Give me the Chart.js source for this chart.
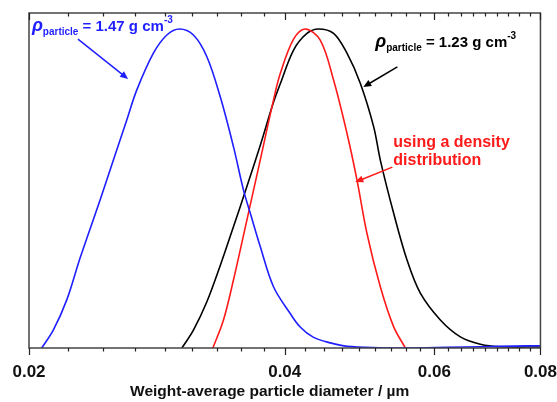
<!DOCTYPE html>
<html>
<head>
<meta charset="utf-8">
<script src="https://cdn.jsdelivr.net/npm/chart.js@4/dist/chart.umd.min.js"></script>
<style>
  html, body { margin: 0; padding: 0; background: #fff; }
  #wrap { width: 557px; height: 402px; }
</style>
</head>
<body>
<div id="wrap"><canvas id="psdChart" width="557" height="402"></canvas></div>
<script>
// weight-average particle diameter (um) / normalised weight fraction
const blueX = [0.02070, 0.02136, 0.02215, 0.02297, 0.02425, 0.02514, 0.02607, 0.02679, 0.02802, 0.02906, 0.03007,
               0.03123, 0.03239, 0.03358, 0.03481, 0.03577, 0.03643, 0.03743, 0.03880, 0.04060, 0.04171,
               0.04321, 0.04526, 0.04739, 0.05183, 0.05572, 0.06216, 0.06798, 0.07435, 0.08];
const blueY = [0, 0.056, 0.150, 0.282, 0.464, 0.589, 0.715, 0.809, 0.924, 0.981, 1.0,
               0.981, 0.913, 0.788, 0.631, 0.495, 0.423, 0.318, 0.192, 0.108, 0.066,
               0.034, 0.016, 0.005, 0.001, 0.0, 0.002, 0.004, 0.006, 0.007];

const blackX = [0.03027, 0.03123, 0.03239, 0.03358, 0.03481, 0.03610, 0.03743, 0.03880, 0.03952, 0.04097, 0.04248,
                0.04384, 0.04566, 0.04735, 0.04909, 0.05090, 0.05183, 0.05373, 0.05572, 0.05777, 0.06099, 0.06439,
                0.06798, 0.07177, 0.08];
const blackY = [0, 0.056, 0.145, 0.258, 0.380, 0.506, 0.635, 0.770, 0.828, 0.934, 0.986,
                1.0, 0.986, 0.924, 0.830, 0.694, 0.589, 0.423, 0.276, 0.172, 0.088, 0.035,
                0.012, 0.004, 0.003];

const redX = [0.03292, 0.03388, 0.03481, 0.03610, 0.03743, 0.03880, 0.03952, 0.04097, 0.04229, 0.04404, 0.04566,
              0.04735, 0.04865, 0.04999, 0.05183, 0.05373, 0.05547];
const redY = [0, 0.088, 0.213, 0.401, 0.589, 0.777, 0.860, 0.968, 1.0, 0.965, 0.840,
              0.673, 0.527, 0.359, 0.192, 0.067, 0];

const majorTicks = [0.02, 0.04, 0.06, 0.08];
const MINOR_PER_GAP = 8;

const FONT = "'Liberation Sans', Arial, sans-serif";

// annotations, anchored in data units (x in um, y in fraction)
const notes = [
  {color: '#1f1fff', x: 0.02016, y: 0.993, parts: [
    {t: 'ρ', f: 'italic bold 18px'}, {t: 'particle', f: 'bold 10px', dy: 4},
    {t: ' = 1.47 g cm', f: 'bold 15px'}, {t: '-3', f: 'bold 10px', dy: -8}]},
  {color: '#000', x: 0.05113, y: 0.943, parts: [
    {t: 'ρ', f: 'italic bold 18px'}, {t: 'particle', f: 'bold 10px', dy: 4},
    {t: ' = 1.23 g cm', f: 'bold 15px'}, {t: '-3', f: 'bold 10px', dy: -8}]},
  {color: '#ff1a1a', x: 0.05369, y: 0.630, parts: [{t: 'using a density', f: 'bold 16px'}]},
  {color: '#ff1a1a', x: 0.05369, y: 0.5735, parts: [{t: 'distribution', f: 'bold 16px'}]}
];
const arrows = [
  {color: '#1f1fff', from: [0.02284, 0.968], to: [0.02616, 0.843]},
  {color: '#000', from: [0.05428, 0.881], to: [0.04949, 0.818]},
  {color: '#ff1a1a', from: [0.05355, 0.567], to: [0.04843, 0.520]}
];

function toPoints(xs, ys) {
  return xs.map((x, i) => ({x: x, y: ys[i]}));
}

function lineSet(label, color, xs, ys) {
  return {
    label: label,
    data: toPoints(xs, ys),
    borderColor: color,
    borderWidth: 1.6,
    pointRadius: 0,
    fill: false,
    tension: 0.35
  };
}

function allTicks() {
  let vals = [];
  for (let i = 0; i < majorTicks.length - 1; i ++) {
    let step = (majorTicks[i + 1] - majorTicks[i]) / (MINOR_PER_GAP + 1);
    for (let k = 0; k <= MINOR_PER_GAP; k ++) {
      vals.push(majorTicks[i] + k * step);
    }
  }
  vals.push(majorTicks[majorTicks.length - 1]);
  return vals;
}

function isMajor(v) {
  return majorTicks.some((m) => Math.abs(m - v) < 1e-9);
}

const framePlugin = {
  id: 'frame',
  afterDraw: (chart) => {
    const ctx = chart.ctx, area = chart.chartArea, xs = chart.scales.x;
    ctx.save();
    ctx.strokeStyle = '#444';
    ctx.lineWidth = 1.5;
    ctx.strokeRect(area.left, area.top, area.right - area.left, area.bottom - area.top);
    ctx.lineWidth = 1.2;
    ctx.strokeStyle = '#222';
    xs.ticks.forEach((t) => {
      const px = Math.round(xs.getPixelForValue(t.value)) + 0.5;
      const len = isMajor(t.value) ? 7 : 3.5;
      ctx.beginPath();
      ctx.moveTo(px, area.bottom);
      ctx.lineTo(px, area.bottom + len);
      ctx.moveTo(px, area.top);
      ctx.lineTo(px, area.top + len);
      ctx.stroke();
    });
    ctx.restore();
  }
};

const notesPlugin = {
  id: 'notes',
  afterDatasetsDraw: (chart) => {
    const ctx = chart.ctx, xs = chart.scales.x, ys = chart.scales.y;
    ctx.save();
    ctx.textBaseline = 'alphabetic';
    ctx.textAlign = 'left';
    notes.forEach((n) => {
      let cx = xs.getPixelForValue(n.x);
      const cy = ys.getPixelForValue(n.y);
      ctx.fillStyle = n.color;
      n.parts.forEach((p) => {
        ctx.font = p.f + ' ' + FONT;
        ctx.fillText(p.t, cx, cy + (p.dy || 0));
        cx += ctx.measureText(p.t).width;
      });
    });
    arrows.forEach((a) => {
      const x1 = xs.getPixelForValue(a.from[0]), y1 = ys.getPixelForValue(a.from[1]);
      const x2 = xs.getPixelForValue(a.to[0]), y2 = ys.getPixelForValue(a.to[1]);
      const ang = Math.atan2(y2 - y1, x2 - x1);
      ctx.strokeStyle = a.color;
      ctx.fillStyle = a.color;
      ctx.lineWidth = 1.5;
      ctx.beginPath();
      ctx.moveTo(x1, y1);
      ctx.lineTo(x2 - 5 * Math.cos(ang), y2 - 5 * Math.sin(ang));
      ctx.stroke();
      ctx.beginPath();
      ctx.moveTo(x2, y2);
      ctx.lineTo(x2 - 8 * Math.cos(ang) + 3.5 * Math.sin(ang), y2 - 8 * Math.sin(ang) - 3.5 * Math.cos(ang));
      ctx.lineTo(x2 - 8 * Math.cos(ang) - 3.5 * Math.sin(ang), y2 - 8 * Math.sin(ang) + 3.5 * Math.cos(ang));
      ctx.closePath();
      ctx.fill();
    });
    ctx.restore();
  }
};

new Chart(document.getElementById('psdChart'), {
  type: 'line',
  data: {
    datasets: [
      lineSet('1.47 g cm-3', '#1f1fff', blueX, blueY),
      lineSet('density distribution', '#ff1a1a', redX, redY),
      lineSet('1.23 g cm-3', '#000000', blackX, blackY)
    ]
  },
  options: {
    responsive: false,
    animation: false,
    devicePixelRatio: 1,
    layout: {padding: {left: 29, right: 0, top: 13, bottom: 0}},
    plugins: {legend: {display: false}, tooltip: {enabled: false}},
    scales: {
      x: {
        type: 'logarithmic',
        min: 0.02,
        max: 0.08,
        afterBuildTicks: (scale) => {
          scale.ticks = allTicks().map((v) => ({value: v}));
        },
        // invisible tick marks only push the labels down; the visible ones come from framePlugin
        grid: {display: true, drawOnChartArea: false, drawTicks: true, tickLength: 14, tickColor: 'rgba(0,0,0,0)'},
        border: {display: false},
        ticks: {
          autoSkip: false,
          maxRotation: 0,
          padding: 0,
          color: '#111',
          font: {family: FONT, size: 17, weight: 'bold'},
          callback: (v) => isMajor(v) ? v.toFixed(2) : ''
        },
        title: {
          display: true,
          // trailing no-break spaces nudge the centred title a little to the left, as in the original
          text: 'Weight-average particle diameter / µm\u00a0\u00a0\u00a0\u00a0\u00a0\u00a0\u00a0',
          color: '#111',
          font: {family: FONT, size: 15.5, weight: 'bold'},
          padding: {top: 0, bottom: 1}
        }
      },
      y: {display: false, min: 0, max: 1.05}
    }
  },
  plugins: [framePlugin, notesPlugin]
});
</script>
</body>
</html>
